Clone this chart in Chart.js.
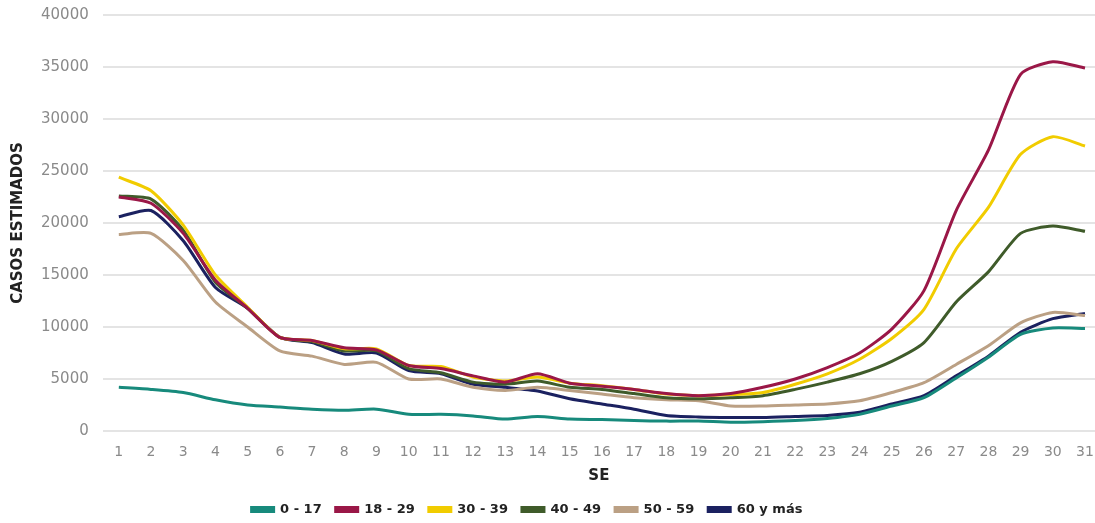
<!DOCTYPE html>
<html>
<head>
<meta charset="utf-8">
<script src="https://cdn.jsdelivr.net/npm/chart.js@4/dist/chart.umd.min.js"></script>
<style>
  html, body { margin: 0; padding: 0; background: #ffffff; }
  #wrap { width: 1095px; height: 523px; position: relative; }
</style>
</head>
<body>
<div id="wrap"><canvas id="c" width="1095" height="523"></canvas></div>
<script>
const weeks = [1,2,3,4,5,6,7,8,9,10,11,12,13,14,15,16,17,18,19,20,21,22,23,24,25,26,27,28,29,30,31];
const yTicks = [0,5000,10000,15000,20000,25000,30000,35000,40000];
const seriesNames = ['0 - 17','18 - 29','30 - 39','40 - 49','50 - 59','60 y más'];

const s0_17  = [4200,4000,3700,3000,2500,2300,2100,2000,2100,1600,1600,1450,1150,1400,1150,1100,1000,950,950,850,900,1000,1200,1600,2400,3200,5100,7100,9300,9900,9850];
const s18_29 = [22500,21900,19000,14500,11800,9000,8700,8000,7800,6300,6000,5300,4700,5500,4600,4300,4000,3600,3400,3600,4200,5000,6100,7500,9800,13500,21200,27000,34300,35500,34900];
const s30_39 = [24400,23100,19800,15000,11900,9000,8700,7900,7900,6300,6200,5200,4800,5200,4600,4350,4000,3550,3400,3500,3700,4500,5500,6900,8900,11700,17500,21500,26600,28300,27400];
const s40_49 = [22600,22300,19300,14300,11800,9000,8600,7700,7700,6000,5600,4700,4500,4800,4200,4000,3600,3200,3100,3200,3400,4000,4700,5500,6700,8500,12400,15300,19000,19700,19200];
const s50_59 = [18900,19000,16400,12400,10000,7700,7200,6400,6600,5000,5000,4200,3900,4200,3900,3550,3200,3000,2900,2400,2400,2500,2600,2900,3700,4650,6400,8200,10400,11400,11100];
const s60    = [20600,21200,18300,13800,11800,9000,8500,7400,7500,5800,5500,4500,4200,3850,3100,2600,2100,1500,1350,1300,1300,1400,1500,1800,2600,3400,5300,7200,9500,10800,11300];

const seriesValues = [s0_17, s18_29, s30_39, s40_49, s50_59, s60];
const seriesColors = ['#178a7c','#9a1747','#f1cc00','#3f5b2a','#bba084','#1b2160'];

const datasets = seriesNames.map((name, i) => ({
  label: name,
  data: seriesValues[i].map((v, j) => ({ x: weeks[j], y: v })),
  borderColor: seriesColors[i],
  backgroundColor: seriesColors[i],
  borderWidth: 3,
  pointRadius: 0,
  pointHoverRadius: 0,
  tension: 0.22,
  fill: false
}));

// shift the legend slightly left, as in the reference
const legendShift = {
  id: 'legendShift',
  afterLayout(chart) {
    if (chart.legend) { chart.legend.left -= 25; chart.legend.right -= 25; }
  }
};

new Chart(document.getElementById('c'), {
  type: 'line',
  data: { datasets },
  plugins: [legendShift],
  options: {
    responsive: false,
    animation: false,
    layout: { padding: { top: 15, right: 0, left: 9, bottom: -3 } },
    plugins: {
      legend: {
        position: 'bottom',
        labels: {
          boxWidth: 22,
          boxHeight: 4,
          padding: 14,
          color: '#222222',
          font: { family: 'DejaVu Sans', size: 13, weight: 'bold' }
        }
      },
      tooltip: { enabled: false }
    },
    scales: {
      x: {
        type: 'linear',
        min: 0.5,
        max: 31.31,
        afterBuildTicks: (scale) => { scale.ticks = weeks.map(w => ({ value: w })); },
        afterFit: (scale) => { scale.paddingRight = 0; scale.paddingLeft = 0; scale.height = 58; },
        ticks: {
          color: '#8a8a8a',
          font: { family: 'DejaVu Sans', size: 14 },
          padding: 13,
          maxRotation: 0,
          autoSkip: false,
          callback: (v) => String(v)
        },
        grid: { display: false, drawTicks: false },
        border: { display: false },
        title: {
          display: true,
          text: 'SE',
          color: '#222222',
          font: { family: 'DejaVu Sans', size: 15, weight: 'bold' },
          padding: { top: 0, bottom: 4 }
        }
      },
      y: {
        min: 0,
        max: 40000,
        afterBuildTicks: (scale) => { scale.ticks = yTicks.map(v => ({ value: v })); },
        afterFit: (scale) => { scale.paddingTop = 0; scale.paddingBottom = 0; },
        ticks: {
          color: '#8a8a8a',
          font: { family: 'DejaVu Sans', size: 15 },
          padding: 14,
          callback: (v) => String(v)
        },
        grid: { color: '#e4e4e4', lineWidth: 2, drawTicks: false },
        border: { display: false },
        title: {
          display: true,
          text: 'CASOS ESTIMADOS',
          color: '#222222',
          font: { family: 'DejaVu Sans', size: 15, weight: 'bold' },
          padding: { top: 0, bottom: 0 }
        }
      }
    }
  }
});
</script>
</body>
</html>
